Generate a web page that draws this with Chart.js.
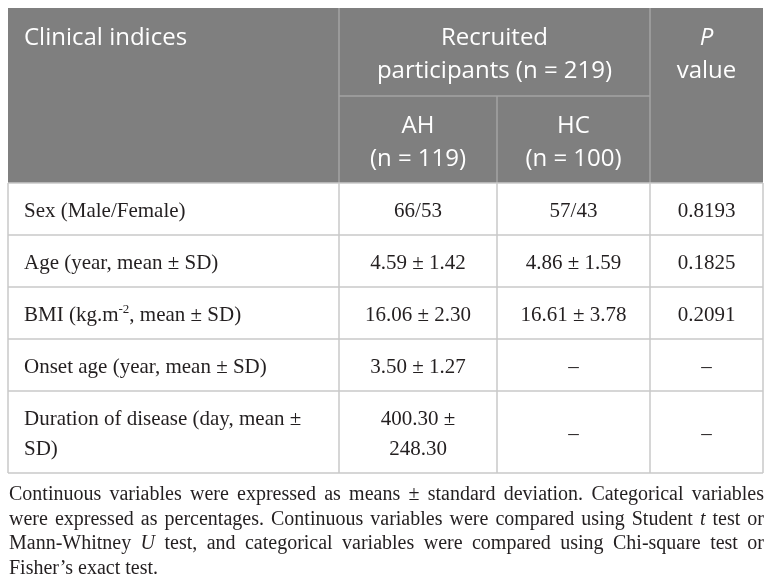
<!DOCTYPE html>
<html>
<head>
<meta charset="utf-8">
<title>Clinical indices</title>
<script src="https://cdn.jsdelivr.net/npm/chart.js@4.4.1/dist/chart.umd.min.js"></script>
<style>
  html, body { margin: 0; padding: 0; background: #fff; }
  canvas { display: block; }
</style>
</head>
<body>
<canvas id="tableChart" width="772" height="588"></canvas>
<script>
// Table content (*x* = italic, ^{x} = superscript)
const headerTitle = 'Clinical indices';
const groupHeader = ['Recruited', 'participants (n = 219)'];
const subHeaders = [['AH', '(n = 119)'], ['HC', '(n = 100)']];
const pHeader = ['*P*', 'value'];

const rowLabels = [
  'Sex (Male/Female)',
  'Age (year, mean ± SD)',
  'BMI (kg.m^{-2}, mean ± SD)',
  'Onset age (year, mean ± SD)',
  'Duration of disease (day, mean ± SD)'
];
const ahValues = ['66/53', '4.59 ± 1.42', '16.06 ± 2.30', '3.50 ± 1.27', '400.30 ± 248.30'];
const hcValues = ['57/43', '4.86 ± 1.59', '16.61 ± 3.78', '–', '–'];
const pValues = ['0.8193', '0.1825', '0.2091', '–', '–'];

const footnoteLines = [
  'Continuous variables were expressed as means ± standard deviation. Categorical variables',
  'were expressed as percentages. Continuous variables were compared using Student *t* test or',
  'Mann-Whitney *U* test, and categorical variables were compared using Chi-square test or',
  'Fisher’s exact test.'
];

// Layout
const colEdges = [0, 331, 489, 642, 755];
const headerSplit = 88;
const headerHeight = 175;
const cellPad = 16;
const SERIF = '"Liberation Serif", "Times New Roman", serif';
const SANS = '"Open Sans", "Noto Sans", sans-serif';
const bodySize = 21;
const headSize = 24;
const noteSize = 20;

// Rich text helpers
function runsOf(word) {
  const runs = [];
  const re = /\*([^*]+)\*|\^\{([^}]+)\}|([^*^]+)/g;
  let m;
  while ((m = re.exec(word))) {
    if (m[1]) runs.push({ t: m[1], it: true });
    else if (m[2]) runs.push({ t: m[2], sup: true });
    else runs.push({ t: m[3] });
  }
  return runs;
}

function fontFor(run, size, family) {
  return (run.it ? 'italic ' : '') + (run.sup ? Math.round(size * 0.62) : size) + 'px ' + family;
}

function wordWidth(ctx, word, size, family) {
  return runsOf(word).reduce((w, r) => {
    ctx.font = fontFor(r, size, family);
    return w + ctx.measureText(r.t).width;
  }, 0);
}

function spaceWidth(ctx, size, family) {
  ctx.font = size + 'px ' + family;
  return ctx.measureText(' ').width;
}

function lineWidth(ctx, words, size, family) {
  const sp = spaceWidth(ctx, size, family);
  return words.reduce((s, w) => s + wordWidth(ctx, w, size, family), 0) + sp * (words.length - 1);
}

function wrap(ctx, text, maxW, size, family) {
  const lines = [];
  let cur = [];
  text.split(' ').forEach(w => {
    const test = cur.concat(w);
    if (cur.length && lineWidth(ctx, test, size, family) > maxW) {
      lines.push(cur);
      cur = [w];
    } else {
      cur = test;
    }
  });
  if (cur.length) lines.push(cur);
  return lines;
}

function drawWords(ctx, words, x, y, size, family, gap) {
  let cx = x;
  words.forEach((w, i) => {
    runsOf(w).forEach(r => {
      ctx.font = fontFor(r, size, family);
      ctx.fillText(r.t, cx, r.sup ? y - size * 0.38 : y);
      cx += ctx.measureText(r.t).width;
    });
    if (i < words.length - 1) cx += gap;
  });
}

function drawLine(ctx, words, x, y, size, family, align) {
  const gap = spaceWidth(ctx, size, family);
  const w = lineWidth(ctx, words, size, family);
  const sx = align === 'center' ? x - w / 2 : x;
  drawWords(ctx, words, sx, y, size, family, gap);
}

// Measure wrapped body cells to get row heights
const canvas = document.getElementById('tableChart');
const mctx = canvas.getContext('2d');
const columns = [rowLabels, ahValues, hcValues, pValues];
const wrapped = columns.map((col, c) => col.map(txt =>
  wrap(mctx, txt, colEdges[c + 1] - colEdges[c] - cellPad * 2, bodySize, SERIF)));
const rowHeights = rowLabels.map((_, r) => {
  const n = Math.max(...wrapped.map(col => col[r].length));
  return 22 + 30 * n;
});
const rowEdges = [headerHeight];
rowHeights.forEach(h => rowEdges.push(rowEdges[rowEdges.length - 1] + h));
const tableWidth = colEdges[colEdges.length - 1];
const tableHeight = rowEdges[rowEdges.length - 1];

const tablePlugin = {
  id: 'tableDraw',
  afterDraw(chart) {
    const ctx = chart.ctx;
    const xs = chart.scales.x, ys = chart.scales.y;
    const X = v => xs.getPixelForValue(v);
    const Y = v => ys.getPixelForValue(v);
    ctx.save();

    // header background
    ctx.fillStyle = '#7f7f7f';
    ctx.fillRect(X(0), Y(0), X(tableWidth) - X(0), Y(headerHeight) - Y(0));

    // header lines
    ctx.strokeStyle = '#a4a4a4';
    ctx.lineWidth = 1.5;
    ctx.beginPath();
    ctx.moveTo(X(colEdges[1]), Y(0)); ctx.lineTo(X(colEdges[1]), Y(headerHeight));
    ctx.moveTo(X(colEdges[3]), Y(0)); ctx.lineTo(X(colEdges[3]), Y(headerHeight));
    ctx.moveTo(X(colEdges[2]), Y(headerSplit)); ctx.lineTo(X(colEdges[2]), Y(headerHeight));
    ctx.moveTo(X(colEdges[1]), Y(headerSplit)); ctx.lineTo(X(colEdges[3]), Y(headerSplit));
    ctx.stroke();

    // body grid
    ctx.strokeStyle = '#c9c9c9';
    ctx.beginPath();
    rowEdges.forEach(r => { ctx.moveTo(X(0), Y(r)); ctx.lineTo(X(tableWidth), Y(r)); });
    colEdges.forEach(c => { ctx.moveTo(X(c), Y(headerHeight)); ctx.lineTo(X(c), Y(tableHeight)); });
    ctx.stroke();

    // header text
    ctx.fillStyle = '#ffffff';
    ctx.textBaseline = 'alphabetic';
    const hLine = 32.5, hTop = 37;
    drawLine(ctx, headerTitle.split(' '), X(colEdges[0]) + cellPad, Y(0) + hTop, headSize, SANS, 'left');
    const midGroup = (X(colEdges[1]) + X(colEdges[3])) / 2;
    groupHeader.forEach((t, i) => drawLine(ctx, t.split(' '), midGroup, Y(0) + hTop + i * hLine, headSize, SANS, 'center'));
    subHeaders.forEach((lines, k) => {
      const cx = (X(colEdges[k + 1]) + X(colEdges[k + 2])) / 2;
      lines.forEach((t, i) => drawLine(ctx, t.split(' '), cx, Y(headerSplit) + hTop + i * hLine, headSize, SANS, 'center'));
    });
    const pMid = (X(colEdges[3]) + X(colEdges[4])) / 2;
    pHeader.forEach((t, i) => drawLine(ctx, t.split(' '), pMid, Y(0) + hTop + i * hLine, headSize, SANS, 'center'));

    // body text
    ctx.fillStyle = '#231f20';
    rowLabels.forEach((_, r) => {
      const mid = (Y(rowEdges[r]) + Y(rowEdges[r + 1])) / 2;
      wrapped.forEach((col, c) => {
        const lines = col[r];
        const first = mid + 8 - (lines.length - 1) * 15;
        lines.forEach((words, i) => {
          if (c === 0) {
            drawLine(ctx, words, X(colEdges[0]) + cellPad, first + i * 30, bodySize, SERIF, 'left');
          } else {
            drawLine(ctx, words, (X(colEdges[c]) + X(colEdges[c + 1])) / 2, first + i * 30, bodySize, SERIF, 'center');
          }
        });
      });
    });

    // footnote, justified
    const noteLeft = X(0) + 1, noteRight = X(tableWidth) + 1;
    const noteTop = Y(tableHeight) + 27;
    footnoteLines.forEach((line, i) => {
      const words = line.split(' ');
      const y = noteTop + i * 24.5;
      if (i === footnoteLines.length - 1) {
        drawLine(ctx, words, noteLeft, y, noteSize, SERIF, 'left');
      } else {
        const sum = words.reduce((s, w) => s + wordWidth(ctx, w, noteSize, SERIF), 0);
        const gap = (noteRight - noteLeft - sum) / (words.length - 1);
        drawWords(ctx, words, noteLeft, y, noteSize, SERIF, gap);
      }
    });

    ctx.restore();
  }
};

new Chart(canvas, {
  type: 'scatter',
  data: { datasets: [] },
  options: {
    responsive: false,
    animation: false,
    layout: {
      padding: { left: 8, top: 8, right: 772 - 8 - tableWidth, bottom: 588 - 8 - tableHeight }
    },
    plugins: {
      legend: { display: false },
      tooltip: { enabled: false }
    },
    scales: {
      x: { type: 'linear', min: 0, max: tableWidth, display: false },
      y: { type: 'linear', min: 0, max: tableHeight, reverse: true, display: false }
    }
  },
  plugins: [tablePlugin]
});
</script>
</body>
</html>
